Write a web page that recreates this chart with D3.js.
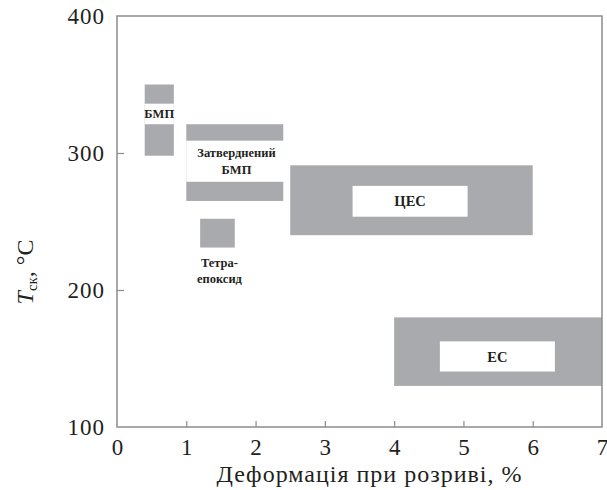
<!DOCTYPE html>
<html>
<head>
<meta charset="utf-8">
<script src="https://cdn.jsdelivr.net/npm/d3@7"></script>
<style>
  html, body { margin: 0; padding: 0; background: #fff; }
  svg { display: block; }
  text { fill: #231f20; }
</style>
</head>
<body>
<svg id="chart" width="607" height="490"></svg>
<script>
// Material regions: elongation at break (%) vs. glass transition temperature (°C)
const materials = ["БМП", "Затверднений БМП", "Тетра-епоксид", "ЦЕС", "ЕС"];
const strainMin = [0.4, 1.0, 1.2, 2.5, 4.0];
const strainMax = [0.82, 2.4, 1.7, 6.0, 7.0];
const tgMin = [298, 265, 231, 240, 130];
const tgMax = [350, 321, 252, 291, 180];

// Label lines per material
const labelLines = [["БМП"], ["Затверднений", "БМП"], ["Тетра-", "епоксид"], ["ЦЕС"], ["ЕС"]];

// Tick values
const xTicks = [0, 1, 2, 3, 4, 5, 6, 7];
const yTicks = [100, 200, 300, 400];

// White label panels, in data units [x0, x1, y0, y1]; null = label sits below the block
const labelPanels = [
  [0.4, 0.82, 321, 336],
  [1.0, 2.45, 279, 309],
  null,
  [3.4, 5.06, 253.5, 276],
  [4.66, 6.32, 140.5, 162.5]
];

const svg = d3.select("#chart");
const plotL = 117, plotR = 602, plotT = 16, plotB = 427;

const x = d3.scaleLinear().domain([0, 7]).range([plotL, plotR]);
const y = d3.scaleLinear().domain([100, 400]).range([plotB, plotT]);

const serif = "'Liberation Serif', 'Times New Roman', serif";
const frameColor = "#8c8c8c";
const fill = "#a9aaad";

const rows = materials.map((m, i) => ({
  name: m, x0: strainMin[i], x1: strainMax[i], y0: tgMin[i], y1: tgMax[i],
  lines: labelLines[i], panel: labelPanels[i]
}));

// Grey blocks
svg.append("g").selectAll("rect").data(rows).join("rect")
  .attr("x", d => x(d.x0))
  .attr("y", d => y(d.y1))
  .attr("width", d => x(d.x1) - x(d.x0))
  .attr("height", d => y(d.y0) - y(d.y1))
  .attr("fill", fill);

// White label panels
svg.append("g").selectAll("rect").data(rows.filter(d => d.panel)).join("rect")
  .attr("x", d => x(d.panel[0]))
  .attr("y", d => y(d.panel[3]))
  .attr("width", d => x(d.panel[1]) - x(d.panel[0]))
  .attr("height", d => y(d.panel[2]) - y(d.panel[3]))
  .attr("fill", "#fff");

// Labels
const labels = svg.append("g")
  .attr("font-family", serif)
  .attr("font-weight", "bold")
  .attr("text-anchor", "middle");

rows.forEach(d => {
  let cx, cy, lineH;
  if (d.panel) {
    cx = (x(d.panel[0]) + x(d.panel[1])) / 2;
    cy = (y(d.panel[2]) + y(d.panel[3])) / 2;
    lineH = 17;
  } else {
    cx = (x(d.x0) + x(d.x1)) / 2 + 2;
    cy = y(d.y0) + 23;
    lineH = 16;
  }
  const fs = (d.name === "ЦЕС" || d.name === "ЕС") ? 14.5 : 12.5;
  const n = d.lines.length;
  d.lines.forEach((t, k) => {
    labels.append("text")
      .attr("x", cx)
      .attr("y", cy + (k - (n - 1) / 2) * lineH)
      .attr("dy", "0.35em")
      .attr("font-size", fs)
      .text(t);
  });
});

// Frame
svg.append("rect")
  .attr("x", plotL).attr("y", plotT)
  .attr("width", plotR - plotL).attr("height", plotB - plotT)
  .attr("fill", "none")
  .attr("stroke", frameColor)
  .attr("stroke-width", 1.5);

// X axis with inward ticks
const xAxis = svg.append("g")
  .attr("transform", `translate(0,${plotB})`)
  .call(d3.axisBottom(x).tickValues(xTicks).tickFormat(d3.format("d"))
    .tickSizeInner(-6).tickSizeOuter(0).tickPadding(12));
xAxis.select(".domain").remove();
xAxis.selectAll(".tick line").attr("stroke", frameColor).attr("stroke-width", 1.2)
  .attr("display", d => (d === 0 || d === 7) ? "none" : null);
xAxis.selectAll("text").attr("font-family", serif).attr("font-size", 23).attr("fill", "#231f20");

// Y axis with inward ticks
const yAxis = svg.append("g")
  .attr("transform", `translate(${plotL},0)`)
  .call(d3.axisLeft(y).tickValues(yTicks).tickFormat(d3.format("d"))
    .tickSizeInner(-7).tickSizeOuter(0).tickPadding(12));
yAxis.select(".domain").remove();
yAxis.selectAll(".tick line").attr("stroke", frameColor).attr("stroke-width", 1.2)
  .attr("display", d => (d === 100 || d === 400) ? "none" : null);
yAxis.selectAll("text").attr("font-family", serif).attr("font-size", 23)
  .attr("letter-spacing", 1).attr("fill", "#231f20");

// Axis titles
svg.append("text")
  .attr("x", (plotL + plotR) / 2 + 10)
  .attr("y", 482)
  .attr("text-anchor", "middle")
  .attr("font-family", serif)
  .attr("font-size", 24)
  .attr("letter-spacing", 1)
  .text("Деформація при розриві, %");

const yt = svg.append("text")
  .attr("transform", `translate(33,272) rotate(-90)`)
  .attr("text-anchor", "middle")
  .attr("font-family", serif)
  .attr("font-size", 24);
yt.append("tspan").attr("font-style", "italic").text("T");
yt.append("tspan").attr("font-size", 15).attr("dy", 4).text("ск");
yt.append("tspan").attr("dy", -4).text(", °C");
</script>
</body>
</html>
